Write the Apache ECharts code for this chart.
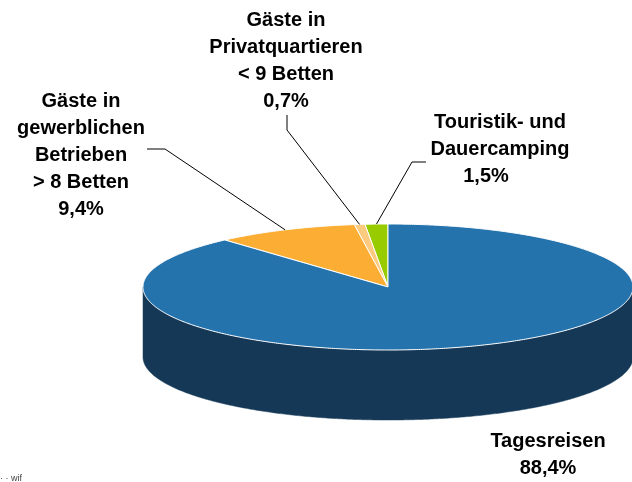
<!DOCTYPE html>
<html>
<head>
<meta charset="utf-8">
<script src="https://cdn.jsdelivr.net/npm/echarts@6/dist/echarts.min.js"></script>
<style>
html,body{margin:0;padding:0;background:#fff;}
#chart{width:632px;height:482px;}
</style>
</head>
<body>
<div id="chart"></div>
<script>
// ---- data ----
const categories = ['Touristik- und Dauercamping', 'Gäste in Privatquartieren < 9 Betten', 'Gäste in gewerblichen Betrieben > 8 Betten', 'Tagesreisen'];
const shares = [1.5, 0.7, 9.4, 88.4];
const labelNames = [
  ['Touristik- und', 'Dauercamping'],
  ['Gäste in', 'Privatquartieren', '< 9 Betten'],
  ['Gäste in', 'gewerblichen', 'Betrieben', '> 8 Betten'],
  ['Tagesreisen']
];
const topColors = ['#99CC00', '#FDCB7F', '#FBAE33', '#2573AD'];
const sideColors = ['#6E9400', '#C49A5E', '#B97F22', '#153857'];

// ---- layout ----
const CX = 388, CY = 287, RX = 245, RY = 63, DEPTH = 70;
const FONT = 'bold 20px "Liberation Sans", Arial, sans-serif';
const LH = 27;
// label block: center x, y of first line centre; percent line offset
const labelPos = [
  {x: 500, y: 122, px: 486},
  {x: 286, y: 20, px: 286},
  {x: 81, y: 101, px: 81},
  {x: 548, y: 441, px: 548}
];
// leader line start points (label side)
const leaderStart = [
  [[426, 162], [412, 162]],
  [[287, 115], [287, 130]],
  [[147, 149], [165, 149]],
  null
];

const total = shares.reduce((a, b) => a + b, 0);
const cumStart = [];
(function(){ let c = 0; shares.forEach(v => { cumStart.push(c); c += v; }); })();

function pt(phiDeg, dy) {
  const r = phiDeg * Math.PI / 180;
  return [CX + RX * Math.sin(r), CY - RY * Math.cos(r) + (dy || 0)];
}
function arc(a, b, dy) {
  const pts = [];
  const n = Math.max(2, Math.ceil(Math.abs(b - a) / 0.5));
  for (let i = 0; i <= n; i++) pts.push(pt(a + (b - a) * i / n, dy));
  return pts;
}
function sliceAngles(idx, v) {
  const a = -(cumStart[idx] + v) / total * 360;
  const b = -cumStart[idx] / total * 360;
  return [a, b];
}
function fmtPct(v) { return v.toFixed(1).replace('.', ',') + '%'; }

function renderSide(params, api) {
  const idx = params.dataIndex;
  const [a, b] = sliceAngles(idx, api.value(0));
  const children = [];
  [[90, 270], [-270, -90]].forEach(([f0, f1]) => {
    const s = Math.max(a, f0), e = Math.min(b, f1);
    if (e > s) {
      const top = arc(s, e, 0);
      const bot = arc(e, s, DEPTH);
      children.push({
        type: 'polygon',
        shape: {points: top.concat(bot)},
        style: {fill: sideColors[idx], stroke: sideColors[idx], lineWidth: 0.5}
      });
    }
  });
  return {type: 'group', children};
}

function renderTop(params, api) {
  const idx = params.dataIndex;
  const v = api.value(0);
  const [a, b] = sliceAngles(idx, v);
  const pts = [[CX, CY]].concat(arc(a, b, 0));
  const children = [{
    type: 'polygon',
    shape: {points: pts},
    style: {fill: topColors[idx], stroke: '#ffffff', lineWidth: 1}
  }];
  if (leaderStart[idx]) {
    const mid = pt((a + b) / 2, 0);
    children.push({
      type: 'polyline',
      shape: {points: leaderStart[idx].concat([mid])},
      style: {stroke: '#000000', lineWidth: 1, fill: null}
    });
  }
  // label text
  const lp = labelPos[idx];
  const lines = labelNames[idx];
  lines.forEach((t, k) => {
    children.push({
      type: 'text',
      style: {text: t, x: lp.x, y: lp.y + k * LH, align: 'center', verticalAlign: 'middle', font: FONT, fill: '#000'}
    });
  });
  children.push({
    type: 'text',
    style: {text: fmtPct(v), x: lp.px, y: lp.y + lines.length * LH, align: 'center', verticalAlign: 'middle', font: FONT, fill: '#000'}
  });
  return {type: 'group', children};
}

const chart = echarts.init(document.getElementById('chart'), null, {renderer: 'canvas'});
chart.setOption({
  animation: false,
  backgroundColor: '#ffffff',
  series: [
    {type: 'custom', coordinateSystem: 'none', name: 'side', data: shares.map((v, i) => ({name: categories[i], value: [v]})), renderItem: renderSide, silent: true},
    {type: 'custom', coordinateSystem: 'none', name: 'top', data: shares.map((v, i) => ({name: categories[i], value: [v]})), renderItem: renderTop, silent: true}
  ],
  graphic: [
    {type: 'text', left: 0, top: 474, style: {text: '· · wif', font: '9px "Liberation Sans", Arial, sans-serif', fill: '#444'}}
  ]
});
</script>
</body>
</html>
